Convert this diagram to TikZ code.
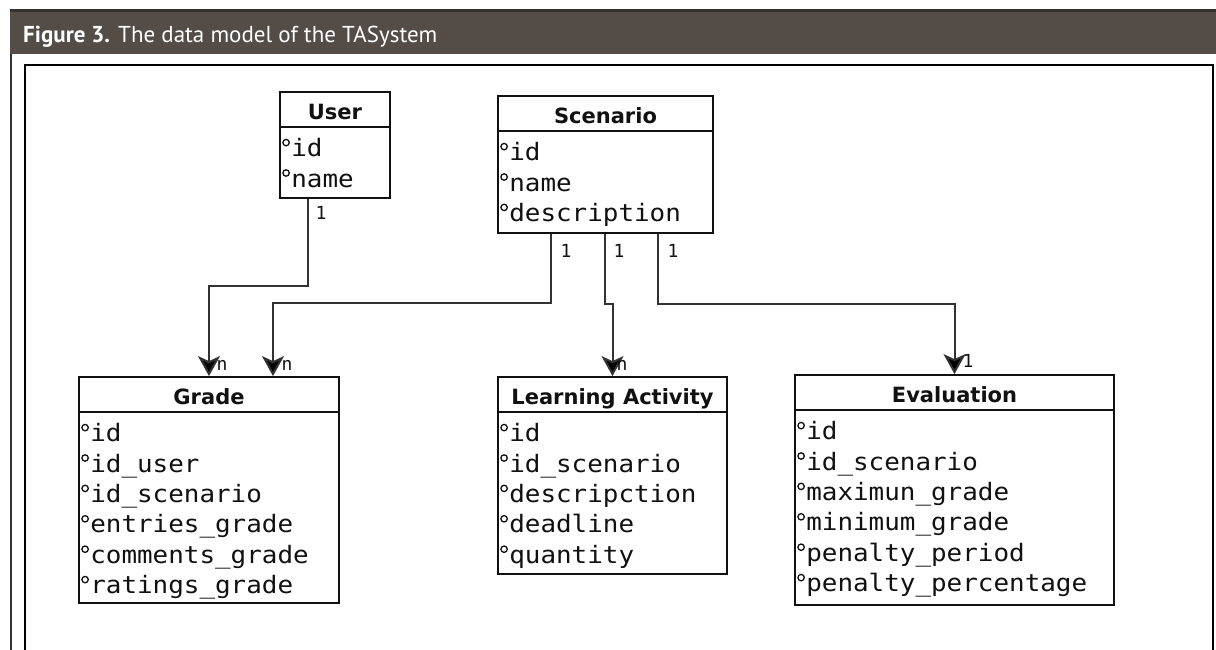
\documentclass[tikz,border=0pt]{standalone}
\usepackage{fontspec}
\setmainfont{DejaVu Sans}
\newfontfamily\headfont{PT Sans}
\newfontfamily\attrfont[FakeStretch=1.08]{DejaVu Sans Mono}
\newfontfamily\labfont{DejaVu Sans Mono}
\newfontfamily\titlefont{DejaVu Sans}
\usetikzlibrary{calc,arrows.meta}
\definecolor{band}{HTML}{544C47}
\definecolor{bandtop}{HTML}{34302D}
\definecolor{ink}{HTML}{111111}
\definecolor{wire}{HTML}{333333}
\newcommand\entityattrs[2]{%
  \foreach \a [count=\i from 0] in {#2} {
    \node[attr] (#1-a\i) at ($(#1.north west)+(12,65.5+30.4*\i)$) {\a};
    \draw[line width=1.3pt, ink] ($(#1-a\i.base west)+(-5,-14)$) circle (3.2pt);
  }}
\newcommand\entitytitle[2]{%
  \node[etitle] (#1-t) at ($(#1.north)+(0,28)$) {#2};
  \draw[line width=1.8pt, ink] ($(#1.north west)+(0,35.5)$) -- ($(#1.north east)+(0,35.5)$);}
\begin{document}
\begin{tikzpicture}[x=1pt,y=-1pt,
  entity/.style={draw=ink, line width=1.8pt, fill=white, inner sep=0pt},
  etitle/.style={anchor=base, inner sep=0pt, text=ink, font=\titlefont\bfseries\fontsize{21}{25}\selectfont},
  attr/.style={anchor=base west, inner sep=0pt, text=ink, font=\attrfont\fontsize{24}{29}\selectfont},
  conn/.style={draw=wire, line width=2pt, -{Stealth[length=20pt,width=22pt,inset=5pt,fill=black]}},
  lab/.style={inner sep=0pt, text=ink, font=\labfont\fontsize{18}{20}\selectfont}]
\useasboundingbox (0,0) rectangle (1216,649);
\fill[white] (0,0) rectangle (1216,649);
% header
\fill[band] (10,9) rectangle (1216,54);
\fill[bandtop] (10,9) rectangle (1216,12);
\node[anchor=base west, inner sep=0pt, text=white, font=\headfont\fontsize{23}{27}\selectfont] (hd) at (23,42) {\textbf{Figure 3.} The data model of the TASystem};
% frames
\draw[wire, line width=1.4pt] (11,54) -- (11,650);
\draw[black, line width=2.2pt] (25,651) -- (25,65) -- (1213,65) -- (1213,651);
% entities
\node[entity, minimum width=110pt, minimum height=106pt] (user) at (335,145) {};
\node[entity, minimum width=215pt, minimum height=137pt] (scen) at (605.5,164.5) {};
\node[entity, minimum width=260pt, minimum height=226pt] (grade) at (209,490) {};
\node[entity, minimum width=229pt, minimum height=197pt] (la) at (612.5,475.5) {};
\node[entity, minimum width=319pt, minimum height=230pt] (eval) at (954.5,490) {};
\entitytitle{user}{User}
\entitytitle{scen}{Scenario}
\entitytitle{grade}{Grade}
\entitytitle{la}{Learning Activity}
\entitytitle{eval}{Evaluation}
\entityattrs{user}{id,name}
\entityattrs{scen}{id,name,description}
\entityattrs{grade}{id,id\_user,id\_scenario,entries\_grade,comments\_grade,ratings\_grade}
\entityattrs{la}{id,id\_scenario,descripction,deadline,quantity}
\entityattrs{eval}{id,id\_scenario,maximun\_grade,minimum\_grade,penalty\_period,penalty\_percentage}
% connectors
\coordinate (u1) at ($(user.south west)+(29,0)$);
\coordinate (s1) at ($(scen.south west)+(54,0)$);
\coordinate (s2) at ($(scen.south west)+(108,0)$);
\coordinate (s3) at ($(scen.south west)+(161,0)$);
\coordinate (g2) at ($(grade.north)+(64,0)$);
\draw[conn] (u1) |- ($(grade.north)+(0,-90)$) -- (grade.north);
\draw[conn] (s1) |- ($(g2)+(0,-73)$) -- (g2);
\draw[conn] (s2) -- ++(0,70) -| (la.north);
\draw[conn] (s3) -- ++(0,70) -| (eval.north);
% multiplicities
\node[lab] (m1) at (321,213) {1};
\node[lab] (m2) at (566,251) {1};
\node[lab] (m3) at (619,251) {1};
\node[lab] (m4) at (673,251) {1};
\node[lab] (m5) at (222,365) {n};
\node[lab] (m6) at (287,365) {n};
\node[lab] (m7) at (622,365) {n};
\node[lab] (m8) at (968,361) {1};
\end{tikzpicture}
\end{document}
